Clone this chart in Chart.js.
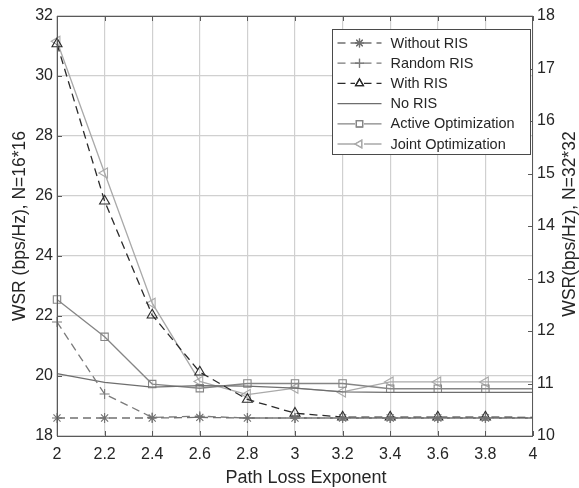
<!DOCTYPE html>
<html>
<head>
<meta charset="utf-8">
<script src="https://cdn.jsdelivr.net/npm/chart.js@4.4.0/dist/chart.umd.min.js"></script>
<style>
  body { margin: 0; background: #fff; }
  #wrap { width: 579px; height: 488px; }
</style>
</head>
<body>
<div id="wrap"><canvas id="wsrChart" width="579" height="488"></canvas></div>
<script>
const pathLoss = [2, 2.2, 2.4, 2.6, 2.8, 3, 3.2, 3.4, 3.6, 3.8, 4];
const xTicks = [2, 2.2, 2.4, 2.6, 2.8, 3, 3.2, 3.4, 3.6, 3.8, 4];
const leftTicks = [18, 20, 22, 24, 26, 28, 30, 32];
const rightTicks = [10, 11, 12, 13, 14, 15, 16, 17, 18];

// left axis, N=16*16
const withoutRIS = [18.6, 18.6, 18.6, 18.62, 18.6, 18.6, 18.6, 18.6, 18.6, 18.6, 18.6];
const randomRIS = [21.8, 19.4, 18.62, 18.66, 18.6, 18.6, 18.6, 18.6, 18.6, 18.6, 18.6];
const withRIS = [31.07, 25.83, 22.03, 20.13, 19.22, 18.76, 18.63, 18.63, 18.63, 18.63, 18.62];

// right axis, N=32*32
const noRIS = [11.19, 11.02, 10.93, 10.96, 10.95, 10.91, 10.84, 10.83, 10.83, 10.83, 10.83];
const activeOpt = [12.6, 11.89, 10.99, 10.91, 11.0, 11.0, 11.0, 10.9, 10.9, 10.9, 10.9];
const jointOpt = [17.52, 15.01, 12.53, 11.04, 10.79, 10.91, 10.84, 11.03, 11.03, 11.03, 11.03];

const xTitle = 'Path Loss Exponent';
const rightTitle = 'WSR(bps/Hz), N=32*32';

const FONT = '"Liberation Sans", Arial, sans-serif';
const TXT = '#262626';

const toPoints = ys => ys.map((y, i) => ({ x: pathLoss[i], y: y }));
// markers on every point except the last one (x = 4)
const markerSizes = r => pathLoss.map((x, i) => (i === pathLoss.length - 1 ? 0 : r));

function series(label, ys, axis, color, style, r, dashed, rot) {
  return {
    label: label,
    data: toPoints(ys),
    yAxisID: axis,
    borderColor: color,
    backgroundColor: 'rgba(0,0,0,0)',
    borderWidth: 1.3,
    borderDash: dashed ? [8, 5] : [],
    pointStyle: style,
    pointRadius: style ? markerSizes(r) : 0,
    pointRotation: rot || 0,
    pointBorderColor: color,
    pointBackgroundColor: 'rgba(0,0,0,0)',
    pointBorderWidth: 1.1,
    tension: 0,
    clip: false
  };
}

const datasets = [
  series('Without RIS', withoutRIS, 'yL', '#707070', 'star', 5, true),
  series('Random RIS', randomRIS, 'yL', '#7a7a7a', 'cross', 5, true),
  series('With RIS', withRIS, 'yL', '#2a2a2a', 'triangle', 5.8, true),
  series('No RIS', noRIS, 'yR', '#6e6e6e', false, 0, false),
  series('Active Optimization', activeOpt, 'yR', '#858585', 'rect', 5.2, false),
  series('Joint Optimization', jointOpt, 'yR', '#a9a9a9', 'triangle', 5.8, false, -90)
];

// box round the plot and MATLAB style inward ticks
const frame = {
  id: 'frame',
  afterDraw(chart) {
    const { ctx, chartArea: a, scales } = chart;
    ctx.save();
    ctx.strokeStyle = '#5a5a5a';
    ctx.lineWidth = 1;
    ctx.setLineDash([]);
    ctx.strokeRect(a.left + 0.5, a.top + 0.5, a.right - a.left - 1, a.bottom - a.top);
    ctx.beginPath();
    xTicks.forEach(v => {
      const px = Math.round(scales.x.getPixelForValue(v)) + 0.5;
      ctx.moveTo(px, a.bottom); ctx.lineTo(px, a.bottom - 5);
      ctx.moveTo(px, a.top); ctx.lineTo(px, a.top + 5);
    });
    leftTicks.forEach(v => {
      const py = Math.round(scales.yL.getPixelForValue(v)) + 0.5;
      ctx.moveTo(a.left, py); ctx.lineTo(a.left + 5, py);
    });
    rightTicks.forEach(v => {
      const py = Math.round(scales.yR.getPixelForValue(v)) + 0.5;
      ctx.moveTo(a.right, py); ctx.lineTo(a.right - 5, py);
    });
    ctx.stroke();

    // x title sits a bit right of centre, right title reads bottom to top
    ctx.fillStyle = TXT;
    ctx.font = '18px ' + FONT;
    ctx.textAlign = 'center';
    ctx.textBaseline = 'middle';
    ctx.fillText(xTitle, (a.left + a.right) / 2 + 11, 478);
    ctx.translate(570, (a.top + a.bottom) / 2 - 2);
    ctx.rotate(-Math.PI / 2);
    ctx.font = '17.5px ' + FONT;
    ctx.fillText(rightTitle, 0, 0);
    ctx.restore();
  }
};

// legend in a box inside the top right corner
const boxLegend = {
  id: 'boxLegend',
  afterDraw(chart) {
    const { ctx, chartArea: a } = chart;
    const w = 198, h = 125;
    const x0 = a.right - 2.5 - w, y0 = a.top + 13.5;
    ctx.save();
    ctx.fillStyle = '#fff';
    ctx.fillRect(x0, y0, w, h);
    ctx.strokeStyle = '#4a4a4a';
    ctx.lineWidth = 1;
    ctx.setLineDash([]);
    ctx.strokeRect(x0, y0, w, h);
    ctx.font = '14.5px ' + FONT;
    ctx.textBaseline = 'middle';
    ctx.textAlign = 'left';
    chart.data.datasets.forEach((ds, i) => {
      const y = y0 + 13.5 + i * 20.2;
      ctx.strokeStyle = ds.borderColor;
      ctx.lineWidth = ds.borderWidth;
      ctx.setLineDash(ds.borderDash);
      ctx.beginPath();
      ctx.moveTo(x0 + 5, y);
      ctx.lineTo(x0 + 49, y);
      ctx.stroke();
      ctx.setLineDash([]);
      if (ds.pointStyle) {
        ctx.fillStyle = '#fff';
        const r = 4.5;
        if (ds.pointStyle !== 'star' && ds.pointStyle !== 'cross') {
          ctx.fillRect(x0 + 27 - r, y - r, 2 * r, 2 * r);
        }
        Chart.helpers.drawPoint(ctx, {
          pointStyle: ds.pointStyle,
          radius: r,
          rotation: ds.pointRotation,
          borderWidth: ds.pointBorderWidth
        }, x0 + 27, y);
        ctx.strokeStyle = ds.borderColor;
        ctx.lineWidth = ds.pointBorderWidth;
        ctx.stroke();
      }
      ctx.fillStyle = TXT;
      ctx.fillText(ds.label, x0 + 58, y + 0.5);
    });
    ctx.restore();
  }
};

const fixedTicks = arr => scale => { scale.ticks = arr.map(v => ({ value: v })); };

new Chart(document.getElementById('wsrChart'), {
  type: 'line',
  data: { datasets: datasets },
  options: {
    responsive: false,
    animation: false,
    layout: { padding: { top: 16, left: 0, right: 0, bottom: 0 } },
    plugins: {
      legend: { display: false },
      tooltip: { enabled: false }
    },
    scales: {
      x: {
        type: 'linear',
        min: 2, max: 4,
        afterBuildTicks: fixedTicks(xTicks),
        afterFit: s => { s.height = 52; },
        grid: { color: '#d0d0d0', lineWidth: 1.2, drawTicks: false },
        border: { display: false },
        ticks: { color: TXT, padding: 9, font: { family: FONT, size: 16 }, maxRotation: 0,
                 callback: v => String(Math.round(v * 10) / 10) },
        title: { display: false }
      },
      yL: {
        type: 'linear',
        position: 'left',
        min: 18, max: 32,
        afterBuildTicks: fixedTicks(leftTicks),
        afterFit: s => { s.width = 57; },
        grid: { color: '#d0d0d0', lineWidth: 1.2, drawTicks: false },
        border: { display: false },
        ticks: { color: TXT, padding: 4, font: { family: FONT, size: 16 } },
        title: { display: true, text: 'WSR (bps/Hz), N=16*16', color: TXT,
                 font: { family: FONT, size: 17.5 }, padding: { top: 10, bottom: 0 } }
      },
      yR: {
        type: 'linear',
        position: 'right',
        min: 10, max: 18,
        afterBuildTicks: fixedTicks(rightTicks),
        afterFit: s => { s.width = 46; },
        grid: { display: false, drawTicks: false },
        border: { display: false },
        ticks: { color: TXT, padding: 4, font: { family: FONT, size: 16 } },
        title: { display: false }
      }
    }
  },
  plugins: [frame, boxLegend]
});
</script>
</body>
</html>
